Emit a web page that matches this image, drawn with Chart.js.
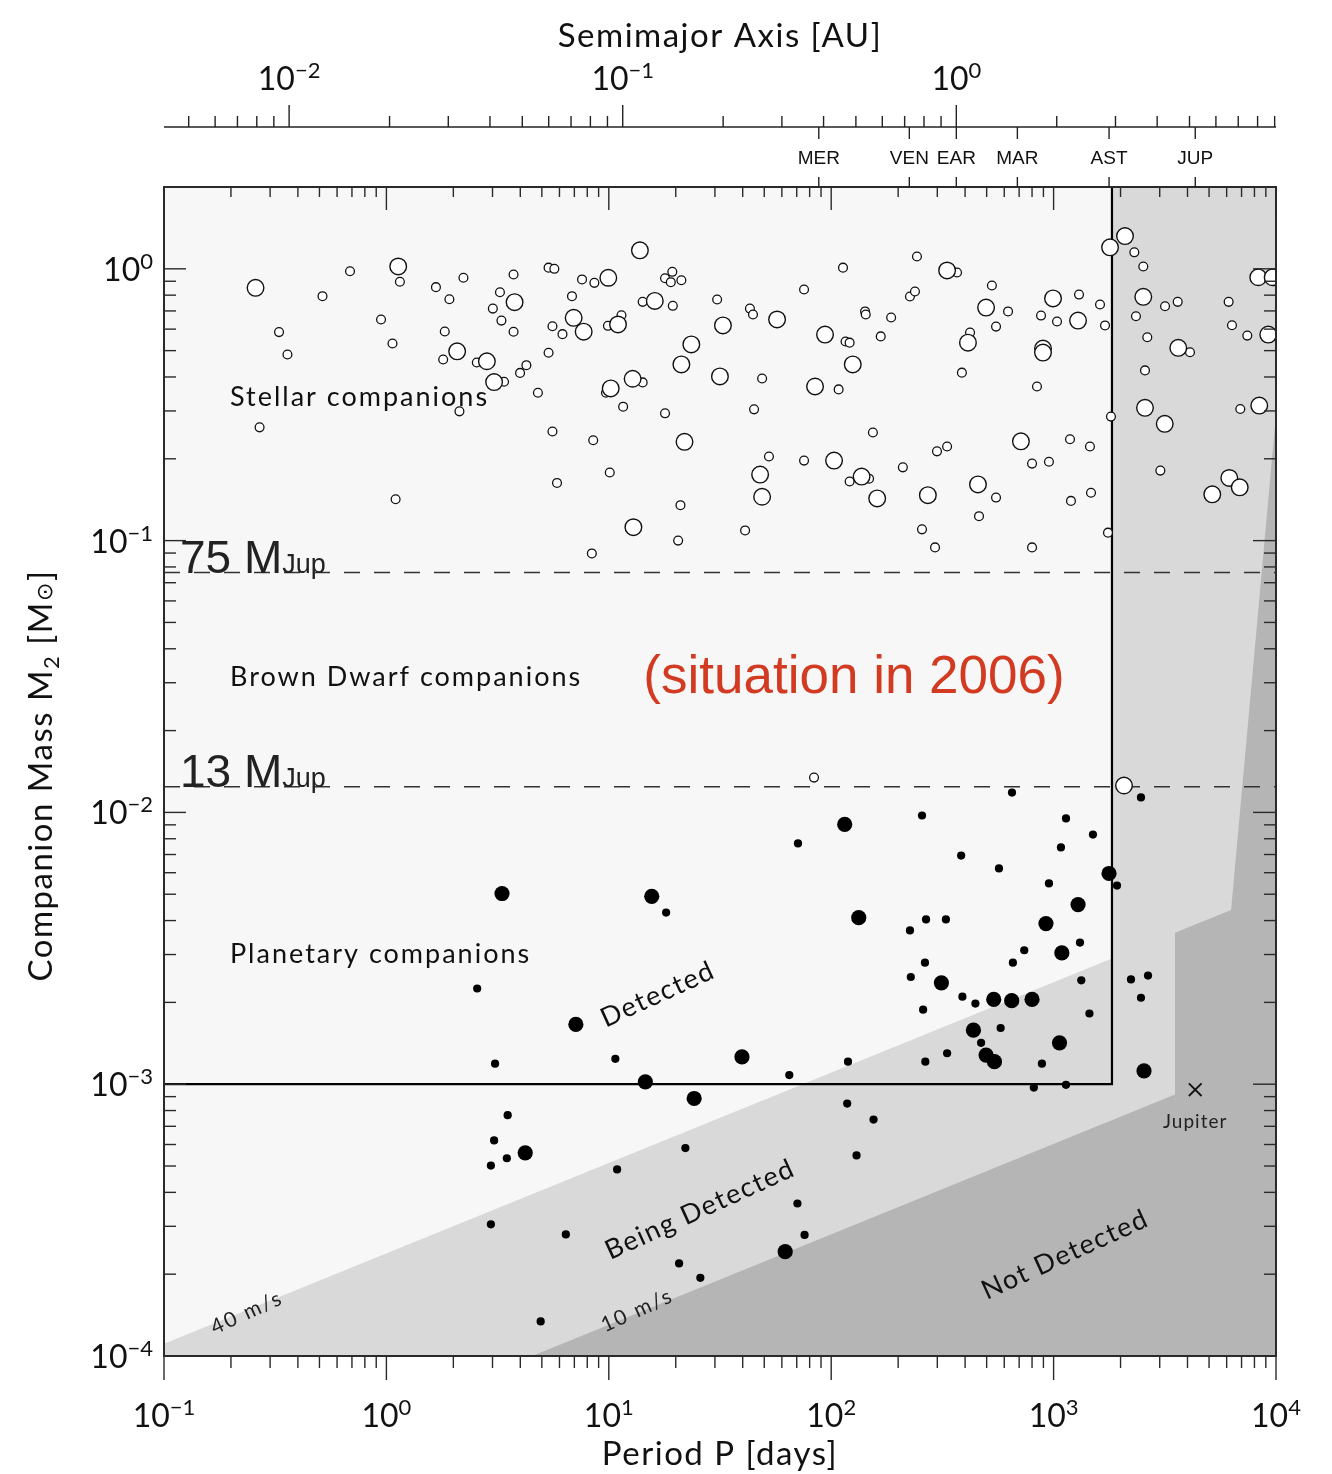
<!DOCTYPE html>
<html>
<head>
<meta charset="utf-8">
<script src="https://cdn.jsdelivr.net/npm/chart.js@4.4.1/dist/chart.umd.min.js"></script>
<style>
  html, body { margin: 0; padding: 0; background: #ffffff; }
  #wrap { width: 1332px; height: 1474px; position: relative; }
</style>
</head>
<body>
<div id="wrap"><canvas id="c" width="1332" height="1474"></canvas></div>
<script>
// ---- Companions: orbital period P [days] and companion mass M2 [solar masses] ----
// Stellar companions (open circles), small and large symbols
const stellarSmallP = [0.329,0.359,0.269,0.516,0.686,1.15,0.946,1.065,1.10,1.67,1.92,2.22,1.83,1.80,2.55,3.38,2.13,3.73,3.24,3.01,3.29,3.73,4.26,3.99,5.36,4.80,5.36,5.69,5.58,6.19,5.58,5.85,6.83,7.58,8.61,9.91,11.4,8.51,10.1,8.39,9.71,11.6,14.2,14.2,17.9,19.3,19.0,21.2,19.4,17.9,21.0,20.5,30.7,43.1,44.5,48.9,45.0,52.5,41.0,75.5,75.5,113,116,121,142,143,167,108,121,148,154,186,226,238,243,368,528,551,624,421,387,210,299,332,256,293,462,551,800,953,800,842,878,1036,1301,1617,1703,1185,1457,1811,1197,1473,1756,2306,2531,3170,3614,2346,2638,4105,2576,3020,6124,6340,7430,6910,83.7];
const stellarSmallM = [0.585,0.484,0.261,0.793,0.980,0.896,0.651,0.531,0.142,0.856,0.773,0.927,0.588,0.464,0.452,0.384,0.299,0.953,0.820,0.714,0.645,0.587,0.442,0.414,0.491,0.350,1.01,1.00,0.615,0.575,0.252,0.163,0.793,0.914,0.888,0.617,0.675,0.234,0.178,0.0897,0.350,0.311,0.756,0.382,0.923,0.975,0.893,0.908,0.731,0.294,0.135,0.100,0.771,0.714,0.679,0.395,0.304,0.204,0.109,0.839,0.197,1.01,0.540,0.535,0.697,0.679,0.564,0.360,0.165,0.169,0.250,0.662,0.791,0.825,1.11,0.969,0.868,0.613,0.697,0.583,0.415,0.186,0.213,0.222,0.110,0.0944,0.123,0.144,0.192,0.195,0.0944,0.369,0.673,0.640,0.804,0.739,0.619,0.236,0.222,0.286,0.140,0.150,0.107,1.15,1.02,0.728,0.756,0.669,0.560,0.493,0.423,0.181,0.756,0.620,0.568,0.305,0.01343];
const stellarLargeP = [0.258,1.13,2.08,2.83,3.05,3.77,6.95,7.71,9.95,11.0,10.2,13.8,16.1,12.8,23.5,21.2,21.9,12.9,32.6,31.6,57.1,47.9,48.9,93.8,84.6,125,103,137,161,332,497,412,272,457,713,994,896,896,1288,1794,2094,2531,3636,2576,3160,5170,6166,6870,9230,8320,9660,8410,2073];
const stellarLargeM = [0.851,1.02,0.497,0.457,0.383,0.754,0.660,0.587,0.927,0.624,0.363,1.17,0.762,0.394,0.527,0.445,0.231,0.112,0.619,0.402,0.651,0.175,0.145,0.573,0.369,0.445,0.197,0.172,0.143,0.986,0.720,0.535,0.147,0.161,0.232,0.778,0.509,0.492,0.645,1.20,1.32,0.789,0.512,0.308,0.269,0.148,0.170,0.157,0.573,0.931,0.931,0.314,0.01256];

// Planetary companions (filled circles), small and large symbols
const planetSmallP = [10.7,64.8,119,3.51,3.48,22.1,10.9,6.41,20.7,25.8,4.94,70.5,75.9,118,155,130,264,228,259,389,445,656,738,578,472,332,265,886,1332,1449,815,1137,18.1,2.56,3.08,2.95,3.05,2.95,70.9,256,384,568,650,1137,1079,1503,953,1928,1314,226,267,328,2228,2658,2471,2471];
const planetSmallM = [1.24e-3,1.08e-3,1.21e-3,7.69e-4,5.34e-4,5.82e-4,4.86e-4,2.80e-4,2.19e-4,1.94e-4,1.34e-4,3.64e-4,2.79e-4,8.49e-4,7.41e-4,5.47e-4,2.80e-3,2.48e-3,1.88e-3,2.10e-3,1.98e-3,2.80e-3,3.11e-3,1.61e-3,1.42e-3,1.30e-3,1.21e-3,1.19e-3,2.41e-3,1.82e-3,9.72e-4,9.95e-4,4.28e-3,2.25e-3,1.19e-3,3.05e-4,6.21e-4,5.02e-4,7.69e-3,9.74e-3,6.94e-3,6.22e-3,1.183e-2,9.50e-3,7.43e-3,8.29e-3,5.48e-3,5.38e-3,3.32e-3,3.68e-3,4.04e-3,4.04e-3,2.43e-3,2.51e-3,2.08e-3,1.135e-2];
const planetLargeP = [7.11,39.7,14.6,24.2,4.21,62.1,313,538,648,800,1089,436,497,542,1063,3.31,15.6,115,133,1775,1288,924,2550];
const planetLargeM = [1.66e-3,1.26e-3,1.02e-3,8.86e-4,5.59e-4,2.42e-4,2.36e-3,2.05e-3,2.03e-3,2.05e-3,3.04e-3,1.58e-3,1.28e-3,1.21e-3,1.42e-3,5.03e-3,4.91e-3,9.03e-3,4.10e-3,5.96e-3,4.58e-3,3.90e-3,1.12e-3];

// Jupiter for reference
const jupiterP = [4332.6];
const jupiterM = [9.55e-4];

// Radial-velocity detection limits
const rv40P = [0.1, 1830];            // 40 m/s
const rv40M = [1.11e-4, 2.90e-3];
const rv10P = [4.52, 3515, 3515, 6280, 10000];   // 10 m/s (with survey duration cut)
const rv10M = [1.0e-4, 9.16e-4, 3.61e-3, 4.37e-3, 0.291];

// "Detected" box: mass floor and period limit
const boxP = [0.1, 1830, 1830];
const boxM = [1e-3, 1e-3, 2.0];

// Deuterium / hydrogen burning limits
const mJupLimitM = [0.0763, 0.01242];
const mJupLimitLabel = ['75', '13'];

// Axis ranges and tick labels
const periodRange = [0.1, 1e4];
const massRange = [1e-4, 2.0];
const periodTicks = [0.1, 1, 10, 100, 1000, 10000];
const periodTickExp = ['\u22121', '0', '1', '2', '3', '4'];
const massTicks = [1e-4, 1e-3, 1e-2, 1e-1, 1];
const massTickExp = ['\u22124', '\u22123', '\u22122', '\u22121', '0'];
const auTicks = [0.01, 0.1, 1];
const auTickExp = ['\u22122', '\u22121', '0'];

// Solar-system planets on the semimajor-axis scale
const planetNames = ['MER', 'VEN', 'EAR', 'MAR', 'AST', 'JUP'];
const planetAU = [0.387, 0.723, 1.0, 1.524, 2.87, 5.203];

const pts = (P, M) => P.map((p, i) => ({ x: p, y: M[i] }));
const auToDays = a => 365.25 * Math.pow(a, 1.5);

function minorTicks(majors, lo, hi) {
  const out = [];
  majors.concat([majors[0] / 10]).forEach(d => {
    for (let k = 2; k <= 9; k++) {
      const v = d * k;
      if (v > lo * 1.0001 && v < hi * 0.9999) out.push(v);
    }
  });
  return out;
}

const FONT = 'Lato, "DejaVu Sans", sans-serif';

function drawRich(ctx, parts, x, y, align) {
  let w = 0;
  parts.forEach(p => { ctx.font = p.font; w += ctx.measureText(p.t).width; });
  let cx = align === 'center' ? x - w / 2 : (align === 'right' ? x - w : x);
  ctx.textAlign = 'left';
  ctx.textBaseline = 'alphabetic';
  parts.forEach(p => {
    ctx.font = p.font;
    ctx.fillText(p.t, cx, y + (p.dy || 0));
    cx += ctx.measureText(p.t).width;
  });
}
function powParts(exp) {
  return [{ t: '10', font: '32px ' + FONT }, { t: exp, font: '22px ' + FONT, dy: -12 }];
}
function rotText(ctx, text, x, y, deg, font) {
  ctx.save();
  ctx.translate(x, y);
  ctx.rotate(deg * Math.PI / 180);
  ctx.font = font;
  ctx.textAlign = 'center';
  ctx.textBaseline = 'middle';
  ctx.fillText(text, 0, 0);
  ctx.restore();
}

// Shaded detectability regions, behind the data
const regionPlugin = {
  id: 'regions',
  beforeDatasetsDraw(chart) {
    const { ctx, chartArea: ca, scales: { x: xs, y: ys } } = chart;
    const px = v => xs.getPixelForValue(v), py = v => ys.getPixelForValue(v);
    ctx.save();
    ctx.beginPath(); ctx.rect(ca.left, ca.top, ca.width, ca.height); ctx.clip();
    ctx.fillStyle = '#f7f7f7';
    ctx.fillRect(ca.left, ca.top, ca.width, ca.height);
    // below 40 m/s and beyond the survey duration
    ctx.fillStyle = '#d9d9d9';
    ctx.beginPath();
    ctx.moveTo(px(periodRange[0]), py(massRange[0]));
    ctx.lineTo(px(rv40P[0]), py(rv40M[0]));
    ctx.lineTo(px(rv40P[1]), py(rv40M[1]));
    ctx.lineTo(px(rv40P[1]), py(massRange[1]));
    ctx.lineTo(px(periodRange[1]), py(massRange[1]));
    ctx.lineTo(px(periodRange[1]), py(massRange[0]));
    ctx.closePath(); ctx.fill();
    // below 10 m/s: not detected
    ctx.fillStyle = '#b5b5b5';
    ctx.beginPath();
    rv10P.forEach((p, i) => { const X = px(p), Y = py(rv10M[i]); i ? ctx.lineTo(X, Y) : ctx.moveTo(X, Y); });
    ctx.lineTo(px(periodRange[1]), py(massRange[0]));
    ctx.closePath(); ctx.fill();
    ctx.restore();
  }
};

// Labels, frame, ticks and both period/semimajor axes
const decorPlugin = {
  id: 'decor',
  afterDatasetsDraw(chart) {
    const { ctx, chartArea: ca, scales: { x: xs, y: ys } } = chart;
    const px = v => xs.getPixelForValue(v), py = v => ys.getPixelForValue(v);
    ctx.save();
    ctx.fillStyle = '#111';

    // region labels
    ctx.letterSpacing = '2px';
    ctx.font = '27px ' + FONT;
    ctx.textAlign = 'left'; ctx.textBaseline = 'alphabetic';
    ctx.fillText('Stellar companions', px(0.198), py(0.314));
    ctx.fillText('Brown Dwarf companions', px(0.198), py(0.0293));
    ctx.fillText('Planetary companions', px(0.198), py(2.80e-3));

    ctx.letterSpacing = '1.5px';
    rotText(ctx, 'Detected', px(16.6), py(2.14e-3), -24.5, '27px ' + FONT);
    rotText(ctx, 'Being Detected', px(25.7), py(3.46e-4), -24.5, '27px ' + FONT);
    rotText(ctx, 'Not Detected', px(1125), py(2.36e-4), -24.5, '27px ' + FONT);
    ctx.fillStyle = '#222';
    ctx.letterSpacing = '2px';
    rotText(ctx, '40 m/s', px(0.236), py(1.445e-4), -24.5, '21px ' + FONT);
    rotText(ctx, '10 m/s', px(13.4), py(1.47e-4), -24.5, '21px ' + FONT);

    // Jupiter label
    ctx.letterSpacing = '1px';
    ctx.font = '19px ' + FONT;
    ctx.textAlign = 'center'; ctx.textBaseline = 'alphabetic';
    ctx.fillText('Jupiter', px(jupiterP[0]), py(jupiterM[0]) + 38);

    // mass-limit labels sitting on the dashed lines
    ctx.letterSpacing = '0px';
    ctx.fillStyle = '#222';
    mJupLimitM.forEach((m, i) => {
      drawRich(ctx, [
        { t: mJupLimitLabel[i] + ' M', font: '300 46px "Liberation Sans", Arial, sans-serif' },
        { t: 'Jup', font: '300 27px "Liberation Sans", Arial, sans-serif', dy: 0 }
      ], px(0.118), py(m), 'left');
    });

    // situation label
    ctx.fillStyle = '#d23a21';
    ctx.font = '53px "Liberation Sans", Arial, sans-serif';
    ctx.textAlign = 'left';
    ctx.fillText('(situation in 2006)', px(14.3), py(0.0274));

    // frame
    ctx.strokeStyle = '#2a2a2a';
    ctx.lineWidth = 2;
    ctx.strokeRect(ca.left, ca.top, ca.width, ca.height);

    // ticks
    const line = (x1, y1, x2, y2) => { ctx.beginPath(); ctx.moveTo(x1, y1); ctx.lineTo(x2, y2); ctx.stroke(); };
    ctx.lineWidth = 1.4;
    const xMinor = minorTicks(periodTicks, periodRange[0], periodRange[1]);
    periodTicks.forEach(v => { const X = px(v); line(X, ca.bottom, X, ca.bottom + 24); line(X, ca.top, X, ca.top + 23); });
    xMinor.forEach(v => { const X = px(v); line(X, ca.bottom, X, ca.bottom + 12); line(X, ca.top, X, ca.top + 10); });
    const yMinor = minorTicks(massTicks, massRange[0], massRange[1]);
    massTicks.forEach(v => { const Y = py(v); line(ca.left, Y, ca.left + 22, Y); line(ca.right, Y, ca.right - 23, Y); });
    yMinor.forEach(v => { const Y = py(v); line(ca.left, Y, ca.left + 12, Y); line(ca.right, Y, ca.right - 12, Y); });

    // tick labels
    ctx.fillStyle = '#111';
    ctx.letterSpacing = '0px';
    periodTicks.forEach((v, i) => drawRich(ctx, powParts(periodTickExp[i]), px(v), ca.bottom + 71, 'center'));
    massTicks.forEach((v, i) => drawRich(ctx, powParts(massTickExp[i]), ca.left - 11, py(v) + 12, 'right'));

    // semimajor axis (top)
    const axisY = 127;
    ctx.strokeStyle = '#222';
    ctx.lineWidth = 1.6;
    line(ca.left, axisY, ca.right, axisY);
    ctx.lineWidth = 1.4;
    const auMin = Math.pow(periodRange[0] / 365.25, 2 / 3), auMax = Math.pow(periodRange[1] / 365.25, 2 / 3);
    auTicks.forEach((a, i) => {
      const X = px(auToDays(a));
      line(X, axisY, X, axisY - 22);
      drawRich(ctx, powParts(auTickExp[i]), X, axisY - 37, 'center');
    });
    minorTicks(auTicks, auMin, auMax).forEach(a => { const X = px(auToDays(a)); line(X, axisY, X, axisY - 11); });

    // planets between the two axes
    ctx.font = '19px "Liberation Sans", Arial, sans-serif';
    ctx.textAlign = 'center'; ctx.textBaseline = 'middle';
    planetAU.forEach((a, i) => {
      const X = px(auToDays(a));
      line(X, axisY, X, axisY + 12);
      line(X, ca.top, X, ca.top - 10);
      ctx.fillText(planetNames[i], X, 159);
    });

    // axis titles
    ctx.letterSpacing = '1.5px';
    ctx.font = '33px ' + FONT;
    ctx.textAlign = 'center'; ctx.textBaseline = 'alphabetic';
    ctx.fillText('Semimajor Axis [AU]', (ca.left + ca.right) / 2, 47);
    ctx.fillText('Period P [days]', (ca.left + ca.right) / 2, 1465);
    ctx.save();
    ctx.translate(52, (ca.top + ca.bottom) / 2 + 4);
    ctx.rotate(-Math.PI / 2);
    drawRich(ctx, [
      { t: 'Companion Mass M', font: '33px ' + FONT },
      { t: '2', font: '22px ' + FONT, dy: 7 },
      { t: ' [M', font: '33px ' + FONT },
      { t: '\u2299', font: '22px "DejaVu Sans", sans-serif', dy: 0 },
      { t: ']', font: '33px ' + FONT }
    ], 0, 0, 'center');
    ctx.restore();

    ctx.restore();
  }
};

new Chart(document.getElementById('c'), {
  type: 'scatter',
  data: {
    datasets: [
      { label: 'Jupiter', data: pts(jupiterP, jupiterM), pointStyle: 'crossRot', pointRadius: 9,
        pointBorderColor: '#111', pointBorderWidth: 1.8, order: 0 },
      { label: 'Planets (large)', data: pts(planetLargeP, planetLargeM), pointRadius: 7.6,
        pointBackgroundColor: '#000', pointBorderColor: '#000', pointBorderWidth: 0, order: 1 },
      { label: 'Planets', data: pts(planetSmallP, planetSmallM), pointRadius: 4.1,
        pointBackgroundColor: '#000', pointBorderColor: '#000', pointBorderWidth: 0, order: 2 },
      { label: 'Stars (large)', data: pts(stellarLargeP, stellarLargeM), pointRadius: 8.3,
        pointBackgroundColor: '#ffffff', pointBorderColor: '#111', pointBorderWidth: 1.4, order: 3 },
      { label: 'Stars', data: pts(stellarSmallP, stellarSmallM), pointRadius: 4.4,
        pointBackgroundColor: '#ffffff', pointBorderColor: '#111', pointBorderWidth: 1.3, order: 4 },
      { label: 'Detected box', data: pts(boxP, boxM), showLine: true, pointRadius: 0,
        borderColor: '#000', borderWidth: 2.2, order: 5 },
      ...mJupLimitM.map((m, i) => ({
        label: mJupLimitLabel[i] + ' MJup', data: pts(periodRange, [m, m]), showLine: true, pointRadius: 0,
        borderColor: '#333', borderWidth: 1.5, borderDash: [16, 14], order: 6 + i
      }))
    ]
  },
  options: {
    responsive: false,
    animation: false,
    devicePixelRatio: 1,
    layout: { padding: { left: 164, right: 56, top: 187, bottom: 118 } },
    plugins: { legend: { display: false }, tooltip: { enabled: false } },
    scales: {
      x: { type: 'logarithmic', min: periodRange[0], max: periodRange[1], display: false },
      y: { type: 'logarithmic', min: massRange[0], max: massRange[1], display: false }
    }
  },
  plugins: [regionPlugin, decorPlugin]
});
</script>
</body>
</html>
